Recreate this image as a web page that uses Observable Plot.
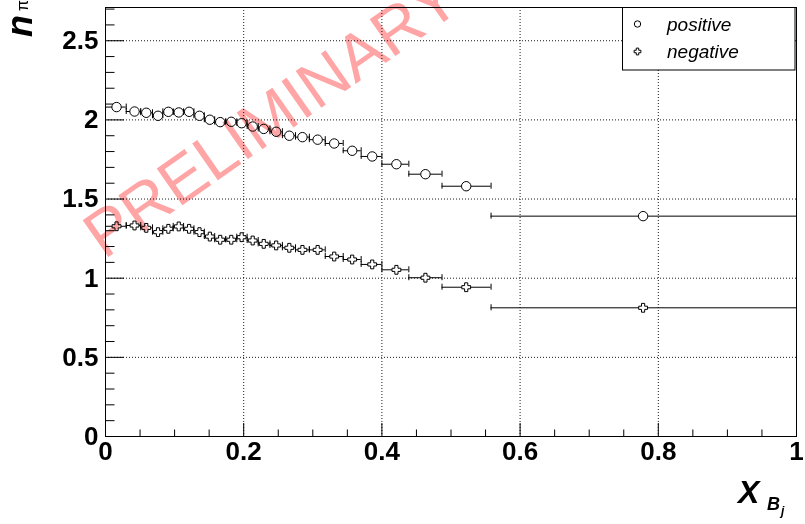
<!DOCTYPE html>
<html>
<head>
<meta charset="utf-8">
<script src="https://cdn.jsdelivr.net/npm/d3@7"></script>
<script src="https://cdn.jsdelivr.net/npm/@observablehq/plot@0.6"></script>
<style>
  html, body { margin: 0; padding: 0; background: #fff; }
  svg { display: block; }
</style>
</head>
<body>
<script>
// ---- data ----
const xB   = [0.016,0.042,0.059,0.076,0.091,0.106,0.121,0.136,0.151,0.166,0.182,0.197,0.213,0.229,0.247,0.266,0.285,0.307,0.331,0.357,0.386,0.421,0.463,0.522,0.778];
const xLo  = [0.000,0.030,0.051,0.068,0.083,0.098,0.113,0.128,0.143,0.158,0.174,0.190,0.205,0.221,0.238,0.256,0.275,0.295,0.318,0.344,0.370,0.400,0.439,0.487,0.558];
const xHi  = [0.030,0.051,0.068,0.083,0.098,0.113,0.128,0.143,0.158,0.174,0.190,0.205,0.221,0.238,0.256,0.275,0.295,0.318,0.344,0.370,0.400,0.439,0.487,0.558,1.000];
const positive = [2.081,2.053,2.045,2.026,2.051,2.047,2.051,2.026,2.001,1.986,1.988,1.979,1.958,1.943,1.925,1.900,1.891,1.875,1.851,1.805,1.769,1.720,1.657,1.581,1.392];
const negative = [1.328,1.333,1.318,1.291,1.312,1.327,1.312,1.291,1.263,1.243,1.243,1.259,1.238,1.217,1.207,1.192,1.179,1.179,1.137,1.118,1.087,1.053,1.003,0.943,0.813];

const xMajor = [0, 0.2, 0.4, 0.6, 0.8, 1];
const xMinor = [0.05,0.1,0.15,0.25,0.3,0.35,0.45,0.5,0.55,0.65,0.7,0.75,0.85,0.9,0.95];
const yMajor = [0, 0.5, 1, 1.5, 2, 2.5];
const yMinor = [0.1,0.2,0.3,0.4,0.6,0.7,0.8,0.9,1.1,1.2,1.3,1.4,1.6,1.7,1.8,1.9,2.1,2.2,2.3,2.4,2.6,2.7];
const xGrid = [0.2, 0.4, 0.6, 0.8];
const yGrid = [0.5, 1, 1.5, 2, 2.5];

const seriesNames = ["positive", "negative"];

// table built from the arrays
const pos = xB.map((x, i) => ({x, lo: xLo[i], hi: xHi[i], v: positive[i]}));
const neg = xB.map((x, i) => ({x, lo: xLo[i], hi: xHi[i], v: negative[i]}));

// ROOT-style open cross marker
const openCross = {
  draw(ctx, size) {
    const b = Math.sqrt(size / Math.PI), a = b * 0.36;
    ctx.moveTo(-a, -b); ctx.lineTo(a, -b); ctx.lineTo(a, -a); ctx.lineTo(b, -a);
    ctx.lineTo(b, a); ctx.lineTo(a, a); ctx.lineTo(a, b); ctx.lineTo(-a, b);
    ctx.lineTo(-a, a); ctx.lineTo(-b, a); ctx.lineTo(-b, -a); ctx.lineTo(-a, -a);
    ctx.closePath();
  }
};

const FONT = "'Liberation Sans', Arial, Helvetica, sans-serif";

function errorMarks(data) {
  return [
    Plot.ruleY(data, {x1: "lo", x2: "hi", y: "v", stroke: "#000", strokeWidth: 1}),
    Plot.ruleX(data, {x: "lo", y1: "v", y2: "v", insetTop: -3, insetBottom: -3, stroke: "#000"}),
    Plot.ruleX(data, {x: "hi", y1: "v", y2: "v", insetTop: -3, insetBottom: -3, stroke: "#000"})
  ];
}

const chart = Plot.plot({
  width: 805,
  height: 524,
  marginLeft: 105,
  marginRight: 9,
  marginTop: 7,
  marginBottom: 88,
  x: {domain: [0, 1]},
  y: {domain: [0, 2.71]},
  style: {fontFamily: FONT, background: "#fff", color: "#000"},
  marks: [
    // dotted grid
    Plot.ruleX(xGrid, {x: d => d, stroke: "#000", strokeDasharray: "1,2", strokeOpacity: 0.9}),
    Plot.ruleY(yGrid, {y: d => d, stroke: "#000", strokeDasharray: "1,2", strokeOpacity: 0.9}),
    // inward ticks
    Plot.ruleY(yMajor, {y: d => d, x1: 0, x2: 0, insetRight: -19, stroke: "#000"}),
    Plot.ruleY(yMinor, {y: d => d, x1: 0, x2: 0, insetRight: -9.5, stroke: "#000"}),
    Plot.ruleX(xMajor, {x: d => d, y1: 0, y2: 0, insetTop: -13, stroke: "#000"}),
    Plot.ruleX(xMinor, {x: d => d, y1: 0, y2: 0, insetTop: -6.5, stroke: "#000"}),
    // axes labels
    Plot.axisY(yMajor, {tickSize: 0, tickPadding: 7, tickFormat: d => String(d), fontSize: 26, fontWeight: "bold", label: null}),
    Plot.axisX(xMajor, {tickSize: 0, tickPadding: 5, tickFormat: d => String(d), fontSize: 26, fontWeight: "bold", label: null}),
    // error bars
    ...errorMarks(pos),
    ...errorMarks(neg),
    // markers
    Plot.dot(pos, {x: "x", y: "v", r: 4.7, stroke: "#000", fill: "#fff", strokeWidth: 1}),
    Plot.dot(neg, {x: "x", y: "v", r: 4.4, symbol: openCross, stroke: "#000", fill: "#fff", strokeWidth: 1}),
    Plot.frame({stroke: "#000", strokeWidth: 1})
  ]
});

document.body.appendChild(chart);

const svg = d3.select(chart);

function txt(parent) {
  return parent.append("text").attr("text-anchor", "start").attr("font-family", FONT);
}

// watermark
txt(svg)
  .attr("transform", "translate(104,260) rotate(-35)")
  .attr("font-size", 65)
  .attr("fill", "#ffa5a5")
  .style("mix-blend-mode", "multiply")
  .text("PRELIMINARY");

// y-axis title n_pi
txt(svg)
  .attr("transform", "translate(32,37) rotate(-90)")
  .attr("font-size", 36)
  .attr("font-weight", "bold").attr("font-style", "italic")
  .text("n");
txt(svg)
  .attr("transform", "translate(28,11) rotate(-90)")
  .attr("font-size", 16)
  .text("π");

// x-axis title X_{B_j}
txt(svg).attr("x", 738).attr("y", 503).attr("font-size", 32)
  .attr("font-weight", "bold").attr("font-style", "italic").text("X");
txt(svg).attr("x", 767).attr("y", 510).attr("font-size", 18)
  .attr("font-weight", "bold").attr("font-style", "italic").text("B");
txt(svg).attr("x", 781).attr("y", 515).attr("font-size", 12)
  .attr("font-weight", "bold").attr("font-style", "italic").text("j");

// legend
const lg = svg.append("g");
lg.append("rect").attr("x", 622.5).attr("y", 7.5).attr("width", 172.5).attr("height", 62.5)
  .attr("fill", "#fff").attr("stroke", "#000").attr("stroke-width", 1);
lg.append("circle").attr("cx", 637.5).attr("cy", 24).attr("r", 3.2)
  .attr("fill", "none").attr("stroke", "#000");
lg.append("path").attr("transform", "translate(637.5,51.5)")
  .attr("d", d3.symbol(openCross, Math.PI * 3.4 * 3.4)())
  .attr("fill", "none").attr("stroke", "#000");
seriesNames.forEach((name, i) => {
  txt(lg).attr("x", 667).attr("y", i === 0 ? 30.5 : 57.5)
    .attr("font-size", 19).attr("font-style", "italic")
    .text(name);
});
</script>
</body>
</html>
